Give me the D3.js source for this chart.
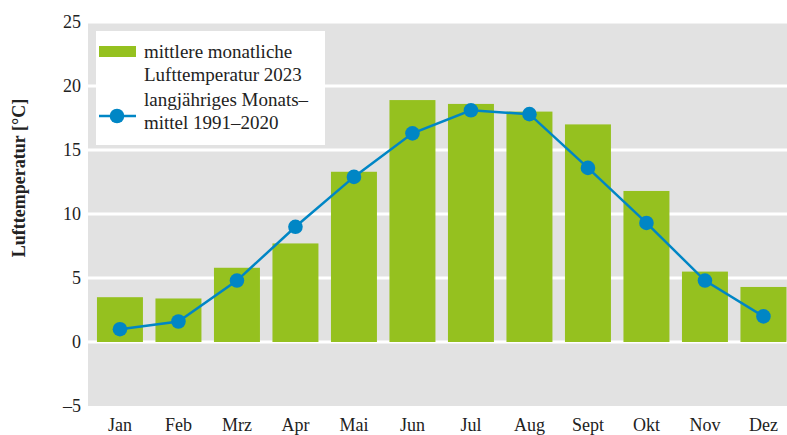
<!DOCTYPE html>
<html>
<head>
<meta charset="utf-8">
<script src="https://cdn.jsdelivr.net/npm/d3@7"></script>
<style>
  body { margin: 0; background: #fff; }
  svg text { font-family: "Liberation Serif", "DejaVu Serif", serif; fill: #222; }
</style>
</head>
<body>
<svg width="787" height="435"></svg>
<script>
// monthly values
var months = ["Jan", "Feb", "Mrz", "Apr", "Mai", "Jun", "Jul", "Aug", "Sept", "Okt", "Nov", "Dez"];
var temp2023 = [3.5, 3.4, 5.8, 7.7, 13.3, 18.9, 18.6, 18.0, 17.0, 11.8, 5.5, 4.3];
var mean9120 = [1.0, 1.6, 4.8, 9.0, 12.9, 16.3, 18.1, 17.8, 13.6, 9.3, 4.8, 2.0];
var yTicks = [-5, 0, 5, 10, 15, 20, 25];

var svg = d3.select("svg"),
    width = +svg.attr("width"),
    height = +svg.attr("height");

var plotLeft = 88, plotRight = 787;

var y = d3.scaleLinear()
    .domain([-5, 25])
    .range([406, 22]);

var x = d3.scaleBand()
    .domain(months)
    .range([90.7, 792.7])
    .paddingInner(0.214)
    .paddingOuter(0.107);

var green = "#95c11f",
    blue = "#0086c5";

svg.append("clipPath")
    .attr("id", "plotclip")
    .append("rect")
    .attr("x", plotLeft)
    .attr("y", 0)
    .attr("width", plotRight - plotLeft)
    .attr("height", height);

// gray plot background
svg.append("rect")
    .attr("x", plotLeft)
    .attr("y", y(25))
    .attr("width", plotRight - plotLeft)
    .attr("height", y(-5) - y(25))
    .attr("fill", "#e2e2e2");

// white grid lines
svg.append("g")
    .selectAll("line")
    .data(yTicks.filter(function (d) { return d > -5; }))
    .enter().append("line")
    .attr("x1", plotLeft)
    .attr("x2", plotRight)
    .attr("y1", function (d) { return y(d); })
    .attr("y2", function (d) { return y(d); })
    .attr("stroke", "#fff")
    .attr("stroke-width", 3);

// y tick labels
svg.append("g")
    .selectAll("text")
    .data(yTicks)
    .enter().append("text")
    .attr("x", 81)
    .attr("y", function (d) { return y(d); })
    .attr("dy", "0.35em")
    .attr("text-anchor", "end")
    .style("font-size", "18px")
    .text(function (d) { return d < 0 ? "\u2013" + Math.abs(d) : d; });

// axis title
svg.append("text")
    .attr("transform", "translate(25," + 178 + ") rotate(-90)")
    .attr("text-anchor", "middle")
    .style("font-size", "18px")
    .style("font-weight", "bold")
    .text("Lufttemperatur [°C]");

// bars
svg.append("g")
    .attr("clip-path", "url(#plotclip)")
    .selectAll("rect")
    .data(temp2023)
    .enter().append("rect")
    .attr("x", function (d, i) { return x(months[i]); })
    .attr("y", function (d) { return y(d); })
    .attr("width", x.bandwidth())
    .attr("height", function (d) { return y(0) - y(d); })
    .attr("fill", green);

// month labels
svg.append("g")
    .selectAll("text")
    .data(months)
    .enter().append("text")
    .attr("x", function (d) { return x(d) + x.bandwidth() / 2; })
    .attr("y", 431)
    .attr("text-anchor", "middle")
    .style("font-size", "18px")
    .text(function (d) { return d; });

// long-term mean line
var line = d3.line()
    .x(function (d, i) { return x(months[i]) + x.bandwidth() / 2; })
    .y(function (d) { return y(d); });

svg.append("path")
    .datum(mean9120)
    .attr("d", line)
    .attr("fill", "none")
    .attr("stroke", blue)
    .attr("stroke-width", 2.5);

svg.append("g")
    .selectAll("circle")
    .data(mean9120)
    .enter().append("circle")
    .attr("cx", function (d, i) { return x(months[i]) + x.bandwidth() / 2; })
    .attr("cy", function (d) { return y(d); })
    .attr("r", 7.3)
    .attr("fill", blue);

// legend
var legend = svg.append("g");

legend.append("rect")
    .attr("x", 96)
    .attr("y", 31)
    .attr("width", 229)
    .attr("height", 114)
    .attr("fill", "#fff");

legend.append("rect")
    .attr("x", 99)
    .attr("y", 46)
    .attr("width", 37)
    .attr("height", 11)
    .attr("fill", green);

legend.append("line")
    .attr("x1", 99)
    .attr("x2", 136)
    .attr("y1", 116)
    .attr("y2", 116)
    .attr("stroke", blue)
    .attr("stroke-width", 2.5);

legend.append("circle")
    .attr("cx", 117)
    .attr("cy", 116)
    .attr("r", 7.3)
    .attr("fill", blue);

var legendLines = [
    ["mittlere monatliche", 58],
    ["Lufttemperatur 2023", 81],
    ["langjähriges Monats\u2013", 106],
    ["mittel 1991\u20132020", 129]
];

legend.selectAll("text.lg")
    .data(legendLines)
    .enter().append("text")
    .attr("class", "lg")
    .attr("x", 144)
    .attr("y", function (d) { return d[1]; })
    .style("font-size", "19px")
    .text(function (d) { return d[0]; });
</script>
</body>
</html>
